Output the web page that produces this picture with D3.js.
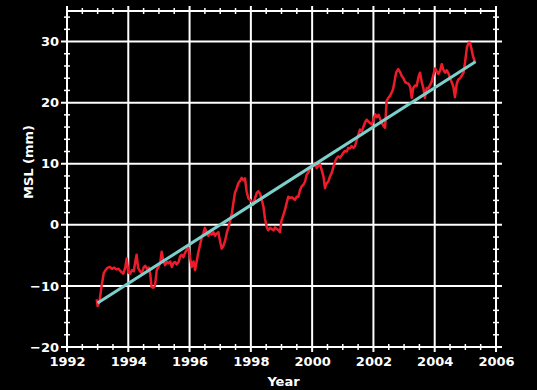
<!DOCTYPE html>
<html>
<head>
<meta charset="utf-8">
<script src="https://cdn.jsdelivr.net/npm/d3@7"></script>
<style>
  html, body { margin: 0; padding: 0; background: #000; }
  svg { display: block; }
  text { font-family: "DejaVu Sans", Verdana, sans-serif; font-weight: bold; fill: #fff; }
</style>
</head>
<body>
<svg id="chart" width="537" height="390"></svg>
<script>
// Global mean sea level (mm) from satellite altimetry, with linear trend
const years = [
  1992.97, 1993.00, 1993.06, 1993.13, 1993.20, 1993.26, 1993.33, 1993.40, 1993.47, 1993.54,
  1993.61, 1993.68, 1993.75, 1993.84, 1993.90, 1993.95, 1994.00, 1994.06, 1994.12, 1994.18,
  1994.22, 1994.27, 1994.32, 1994.38, 1994.44, 1994.50, 1994.55, 1994.61, 1994.67, 1994.72,
  1994.76, 1994.82, 1994.87, 1994.93, 1994.99, 1995.04, 1995.09, 1995.14, 1995.20, 1995.26,
  1995.31, 1995.37, 1995.42, 1995.48, 1995.53, 1995.58, 1995.64, 1995.69, 1995.74, 1995.80,
  1995.85, 1995.91, 1995.96, 1996.02, 1996.07, 1996.13, 1996.18, 1996.24, 1996.29, 1996.35,
  1996.40, 1996.45, 1996.50, 1996.56, 1996.61, 1996.66, 1996.72, 1996.78, 1996.83, 1996.89,
  1996.94, 1997.00, 1997.05, 1997.10, 1997.16, 1997.22, 1997.27, 1997.32, 1997.38, 1997.43,
  1997.48, 1997.54, 1997.59, 1997.65, 1997.70, 1997.76, 1997.81, 1997.86, 1997.92, 1997.97,
  1998.03, 1998.08, 1998.14, 1998.19, 1998.24, 1998.30, 1998.35, 1998.41, 1998.46, 1998.52,
  1998.57, 1998.63, 1998.68, 1998.74, 1998.79, 1998.85, 1998.90, 1998.95, 1999.00, 1999.06,
  1999.11, 1999.17, 1999.22, 1999.28, 1999.33, 1999.39, 1999.44, 1999.50, 1999.55, 1999.60,
  1999.66, 1999.72, 1999.77, 1999.82, 1999.88, 1999.93, 1999.99, 2000.04, 2000.09, 2000.15,
  2000.20, 2000.26, 2000.31, 2000.37, 2000.42, 2000.47, 2000.53, 2000.58, 2000.64, 2000.70,
  2000.75, 2000.80, 2000.86, 2000.91, 2000.97, 2001.02, 2001.07, 2001.13, 2001.18, 2001.24,
  2001.29, 2001.35, 2001.40, 2001.45, 2001.51, 2001.56, 2001.62, 2001.67, 2001.73, 2001.78,
  2001.84, 2001.90, 2001.95, 2002.01, 2002.06, 2002.11, 2002.17, 2002.22, 2002.27, 2002.33,
  2002.38, 2002.43, 2002.49, 2002.54, 2002.59, 2002.64, 2002.69, 2002.74, 2002.81, 2002.87,
  2002.92, 2002.98, 2003.03, 2003.09, 2003.14, 2003.20, 2003.25, 2003.30, 2003.36, 2003.41,
  2003.47, 2003.52, 2003.58, 2003.63, 2003.68, 2003.74, 2003.79, 2003.85, 2003.90, 2003.96,
  2004.01, 2004.07, 2004.12, 2004.18, 2004.23, 2004.28, 2004.34, 2004.39, 2004.45, 2004.50,
  2004.55, 2004.61, 2004.66, 2004.72, 2004.77, 2004.83, 2004.88, 2004.94, 2004.99, 2005.05,
  2005.10, 2005.15, 2005.20, 2005.25, 2005.30, 2005.33
];
const mslValues = [
  -12.2, -13.3, -12.6, -10.0, -7.9, -7.4, -7.0, -6.9, -7.2, -7.0,
  -7.3, -7.2, -7.6, -8.0, -7.0, -5.5, -7.8, -8.0, -7.4, -7.6,
  -6.3, -4.9, -7.0, -7.6, -7.9, -7.0, -6.7, -7.2, -7.0, -8.2,
  -10.2, -10.3, -10.0, -7.4, -6.8, -6.3, -4.4, -5.8, -6.6, -6.1,
  -6.3, -6.0, -6.9, -6.2, -6.1, -6.5, -6.1, -5.2, -4.9, -5.3,
  -4.6, -4.1, -3.7, -5.5, -6.9, -6.0, -7.4, -5.8, -4.4, -3.1,
  -2.0, -1.4, -0.5, -1.2, -1.8, -1.3, -1.6, -1.2, -1.8, -1.4,
  -1.2, -2.8, -3.9, -3.5, -2.6, -1.2, -0.4, 0.6, 1.9, 3.6,
  5.2, 6.0, 6.8, 7.2, 7.7, 7.3, 7.6, 5.5, 4.3, 4.1,
  3.8, 3.3, 4.4, 5.2, 5.5, 5.1, 4.2, 3.0, 1.0, -0.4,
  -0.9, -0.5, -0.7, -0.9, -0.4, -0.7, -0.9, -1.2, 0.7, 1.6,
  2.4, 3.6, 4.6, 4.4, 4.5, 4.3, 4.1, 4.6, 4.6, 5.6,
  6.3, 6.6, 7.1, 8.2, 8.6, 9.3, 9.7, 9.6, 10.1, 9.3,
  9.6, 9.9, 9.0, 7.9, 6.0, 6.8, 7.1, 7.9, 8.5, 9.6,
  10.4, 10.9, 11.2, 11.0, 11.4, 11.8, 12.1, 12.0, 12.6, 12.5,
  12.9, 12.6, 12.9, 13.8, 14.8, 15.6, 15.3, 16.0, 16.8, 17.2,
  16.9, 16.6, 16.4, 17.4, 18.1, 17.6, 18.0, 17.3, 16.7, 16.2,
  15.9, 20.3, 20.8, 21.1, 21.6, 22.2, 23.5, 24.9, 25.5, 25.0,
  24.4, 24.0, 23.4, 23.2, 23.1, 22.6, 20.8, 22.4, 22.8, 22.7,
  24.2, 24.9, 23.3, 22.4, 20.8, 22.4, 22.3, 22.9, 23.4, 24.6,
  25.6, 25.1, 24.7, 25.3, 26.3, 25.4, 24.9, 25.3, 24.8, 24.0,
  23.4, 22.6, 20.9, 23.1, 23.8, 24.0, 24.4, 24.9, 26.6, 29.0,
  29.8, 29.8, 28.8, 27.6, 26.8, 26.6
];
// Linear trend end points (about 3.2 mm/yr)
const trendYears = [1993.0, 2005.33];
const trendValues = [-12.8, 26.7];

// Axis ticks
const xMajor = [1992, 1994, 1996, 1998, 2000, 2002, 2004, 2006];
const yMajor = [-20, -10, 0, 10, 20, 30];
const xLabel = "Year";
const yLabel = "MSL (mm)";

const svg = d3.select("#chart");
const plotLeft = 67, plotRight = 496, plotTop = 11, plotBottom = 347;

const x = d3.scaleLinear().domain([1992, 2006]).range([plotLeft, plotRight]);
const y = d3.scaleLinear().domain([-20, 35]).range([plotBottom, plotTop]);

const xMinor = d3.range(1992, 2006.001, 0.5).filter(v => !xMajor.includes(v));
const yMinor = d3.range(-20, 35.001, 2).filter(v => !yMajor.includes(v));

const g = svg.append("g");

// Major grid lines, extending a little past the frame as major ticks
g.append("g").selectAll("line").data(xMajor).join("line")
  .attr("x1", d => x(d)).attr("x2", d => x(d))
  .attr("y1", plotTop - 5).attr("y2", plotBottom + 5)
  .attr("stroke", "#fff").attr("stroke-width", 2);
g.append("g").selectAll("line").data(yMajor).join("line")
  .attr("y1", d => y(d)).attr("y2", d => y(d))
  .attr("x1", plotLeft - 6).attr("x2", plotRight + 6)
  .attr("stroke", "#fff").attr("stroke-width", 2);

// Frame
g.append("rect")
  .attr("x", plotLeft).attr("y", plotTop)
  .attr("width", plotRight - plotLeft).attr("height", plotBottom - plotTop)
  .attr("fill", "none").attr("stroke", "#fff").attr("stroke-width", 2);

// Minor ticks on all four sides
const mt = 3;
[plotBottom, plotTop].forEach(yy => {
  g.append("g").selectAll("line").data(xMinor).join("line")
    .attr("x1", d => x(d)).attr("x2", d => x(d))
    .attr("y1", yy - mt).attr("y2", yy + mt)
    .attr("stroke", "#fff").attr("stroke-width", 1.5);
});
[plotLeft, plotRight].forEach(xx => {
  g.append("g").selectAll("line").data(yMinor).join("line")
    .attr("y1", d => y(d)).attr("y2", d => y(d))
    .attr("x1", xx - mt).attr("x2", xx + mt)
    .attr("stroke", "#fff").attr("stroke-width", 1.5);
});

// Tick labels via d3 axes
const xAxis = d3.axisBottom(x).tickValues(xMajor).tickSize(0).tickPadding(10)
  .tickFormat(d3.format("d"));
const yAxis = d3.axisLeft(y).tickValues(yMajor).tickSize(0).tickPadding(8)
  .tickFormat(d3.format("d"));

const gx = svg.append("g").attr("transform", `translate(0,${plotBottom})`).call(xAxis);
const gy = svg.append("g").attr("transform", `translate(${plotLeft},0)`).call(yAxis);
[gx, gy].forEach(a => {
  a.select(".domain").remove();
  a.selectAll("text").attr("font-family", "DejaVu Sans, Verdana, sans-serif")
    .attr("font-weight", "bold").attr("font-size", 13).attr("fill", "#fff");
});

// Axis titles
svg.append("text")
  .attr("x", (plotLeft + plotRight) / 2 + 2).attr("y", 386)
  .attr("text-anchor", "middle").attr("font-size", 13)
  .text(xLabel);
svg.append("text")
  .attr("transform", `translate(33,162) rotate(-90)`)
  .attr("text-anchor", "middle").attr("font-size", 13)
  .text(yLabel);

// Sea-level series
const series = years.map((t, i) => [t, mslValues[i]]);
svg.append("path")
  .datum(series)
  .attr("fill", "none")
  .attr("stroke", "#ee1c2a")
  .attr("stroke-width", 2.5)
  .attr("stroke-linejoin", "round")
  .attr("d", d3.line().x(d => x(d[0])).y(d => y(d[1])));

// Trend line
const trend = trendYears.map((t, i) => [t, trendValues[i]]);
svg.append("path")
  .datum(trend)
  .attr("fill", "none")
  .attr("stroke", "#7cd0cc")
  .attr("stroke-width", 3)
  .attr("d", d3.line().x(d => x(d[0])).y(d => y(d[1])));
</script>
</body>
</html>
